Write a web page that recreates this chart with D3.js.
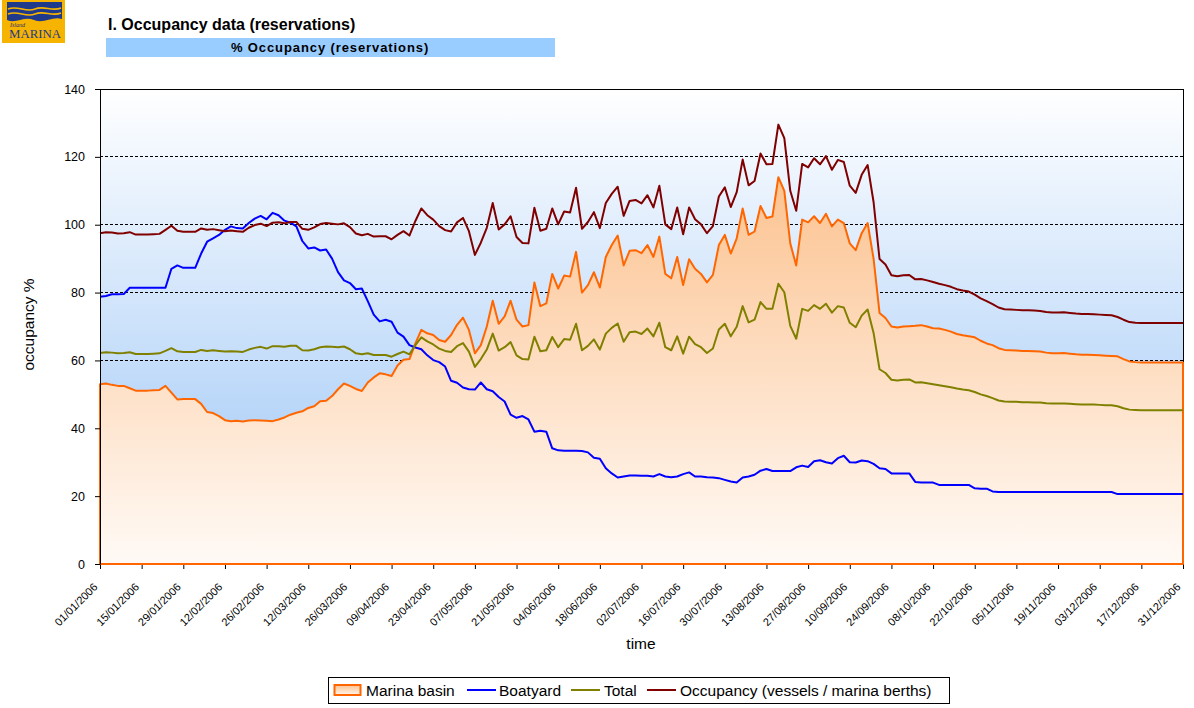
<!DOCTYPE html>
<html>
<head>
<meta charset="utf-8">
<script src="https://cdn.jsdelivr.net/npm/d3@7"></script>
<style>
  body { margin: 0; background: #fff; }
  svg { display: block; font-family: "Liberation Sans", Arial, sans-serif; }
</style>
</head>
<body>
<svg id="chart" width="1194" height="708"></svg>
<script>
// one reading every second day, starting 01/01/2006
const dayOffsets = d3.range(0, 365, 2);

const tickLabels = ['01/01/2006', '15/01/2006', '29/01/2006', '12/02/2006', '26/02/2006', '12/03/2006',
  '26/03/2006', '09/04/2006', '23/04/2006', '07/05/2006', '21/05/2006', '04/06/2006', '18/06/2006',
  '02/07/2006', '16/07/2006', '30/07/2006', '13/08/2006', '27/08/2006', '10/09/2006', '24/09/2006',
  '08/10/2006', '22/10/2006', '05/11/2006', '19/11/2006', '03/12/2006', '17/12/2006', '31/12/2006'];

const yTicks = [0, 20, 40, 60, 80, 100, 120, 140];
const gridValues = [20, 40, 60, 80, 100, 120];

const marinaBasin = [
  53.0, 53.2, 52.8, 52.5, 52.5, 51.8, 51.1, 51.1, 51.1, 51.2,
  51.3, 52.5, 50.5, 48.5, 48.6, 48.6, 48.6, 47.2, 44.8, 44.5,
  43.6, 42.4, 42.1, 42.2, 42.0, 42.3, 42.4, 42.3, 42.2, 42.1,
  42.6, 43.2, 44.0, 44.6, 45.0, 46.0, 46.5, 48.0, 48.1, 49.5,
  51.5, 53.2, 52.5, 51.6, 51.0, 53.5, 55.0, 56.2, 55.9, 55.4,
  58.5, 60.2, 60.4, 65.0, 69.0, 68.0, 67.5, 66.0, 65.5, 67.5,
  70.5, 72.6, 69.0, 62.1, 64.5, 70.0, 77.6, 70.8, 73.0, 77.6,
  72.0, 70.0, 70.4, 83.0, 76.0, 76.8, 85.5, 81.2, 85.0, 84.7,
  92.0, 80.0, 82.2, 86.0, 81.5, 90.5, 94.0, 96.8, 88.0, 92.3,
  92.5, 91.6, 94.0, 90.5, 96.5, 85.5, 84.2, 90.5, 82.2, 89.8,
  87.0, 85.5, 83.0, 85.2, 94.0, 97.0, 91.5, 96.0, 104.8, 97.0,
  98.0, 105.5, 102.0, 102.4, 114.0, 110.0, 94.5, 88.0, 101.5, 100.7,
  102.5, 100.5, 103.2, 99.5, 101.5, 100.5, 94.5, 92.5, 97.5, 100.5,
  90.0, 74.0, 72.5, 70.0, 69.7, 70.0, 70.1, 70.2, 70.4, 70.0,
  69.5, 69.4, 69.0, 68.5, 67.8, 67.4, 67.1, 66.8, 65.8, 65.0,
  64.5, 63.6, 63.1, 63.0, 62.9, 62.8, 62.8, 62.7, 62.6, 62.3,
  62.1, 62.1, 62.2, 62.0, 61.8, 61.7, 61.7, 61.6, 61.5, 61.4,
  61.3, 61.2, 60.4, 59.7, 59.5, 59.4, 59.4, 59.4, 59.4, 59.4,
  59.4, 59.4, 59.4];

const boatyard = [
  78.8, 79.0, 79.5, 79.5, 79.6, 81.4, 81.4, 81.4, 81.4, 81.4,
  81.4, 81.4, 87.0, 88.0, 87.3, 87.3, 87.3, 91.5, 95.0, 96.0,
  97.0, 98.5, 99.5, 99.0, 98.9, 100.5, 101.8, 102.6, 101.6, 103.5,
  102.8, 101.2, 100.6, 99.5, 95.2, 93.0, 93.3, 92.4, 92.7, 90.0,
  86.0, 83.6, 82.8, 81.0, 81.2, 77.5, 73.5, 71.5, 72.0, 71.4,
  68.2, 67.0, 64.5, 63.8, 63.3, 61.5, 60.1, 59.5, 58.2, 54.0,
  53.4, 52.0, 51.5, 51.4, 53.5, 51.5, 50.9, 49.2, 47.9, 44.0,
  43.1, 43.6, 42.6, 39.0, 39.3, 39.0, 34.1, 33.5, 33.4, 33.4,
  33.4, 33.3, 32.9, 31.3, 31.0, 28.2, 26.7, 25.5, 25.8, 26.1,
  26.1, 26.0, 26.0, 25.8, 26.5, 25.8, 25.6, 25.8, 26.5, 27.0,
  25.8, 25.8, 25.6, 25.5, 25.3, 24.8, 24.3, 24.0, 25.5, 25.8,
  26.3, 27.5, 28.0, 27.4, 27.4, 27.4, 27.4, 28.5, 29.0, 28.6,
  30.3, 30.6, 30.0, 29.6, 31.2, 31.9, 30.0, 29.9, 30.5, 30.3,
  29.5, 28.2, 28.0, 26.7, 26.7, 26.7, 26.7, 24.2, 24.0, 24.0,
  24.0, 23.3, 23.3, 23.3, 23.3, 23.3, 23.3, 22.3, 22.2, 22.2,
  21.4, 21.2, 21.2, 21.2, 21.2, 21.2, 21.2, 21.2, 21.2, 21.2,
  21.2, 21.2, 21.2, 21.2, 21.2, 21.2, 21.2, 21.2, 21.2, 21.2,
  21.2, 20.6, 20.6, 20.6, 20.6, 20.6, 20.6, 20.6, 20.6, 20.6,
  20.6, 20.6, 20.6];

const total = [
  62.2, 62.4, 62.3, 62.1, 62.2, 62.4, 61.9, 61.9, 61.9, 62.0,
  62.1, 62.8, 63.6, 62.7, 62.5, 62.5, 62.5, 63.1, 62.8, 63.0,
  62.8, 62.6, 62.7, 62.6, 62.5, 63.2, 63.7, 64.0, 63.5, 64.2,
  64.2, 64.0, 64.3, 64.3, 63.0, 62.9, 63.3, 63.9, 64.1, 64.0,
  63.9, 64.1, 63.3, 62.1, 61.8, 62.1, 61.6, 61.6, 61.6, 61.1,
  61.9, 62.6, 61.8, 64.5, 66.8, 65.6, 64.7, 63.5, 62.8, 62.5,
  64.2, 65.1, 62.6, 58.1, 60.4, 63.2, 67.9, 62.9, 63.9, 65.4,
  61.5, 60.4, 60.3, 67.0, 62.7, 63.0, 66.9, 63.9, 66.3, 66.1,
  70.8, 63.0, 64.3, 66.2, 63.2, 67.9, 69.6, 70.9, 65.5, 68.3,
  68.5, 67.8, 69.4, 67.1, 71.1, 63.9, 63.0, 67.1, 62.0, 67.0,
  64.8, 63.9, 62.2, 63.5, 69.1, 70.8, 67.1, 69.9, 76.0, 71.2,
  72.0, 77.2, 75.2, 75.2, 82.6, 80.1, 70.2, 66.4, 75.2, 74.6,
  76.3, 75.2, 76.7, 74.1, 76.0, 75.6, 71.1, 69.8, 73.2, 75.0,
  68.1, 57.4, 56.3, 54.3, 54.1, 54.3, 54.4, 53.5, 53.6, 53.3,
  53.0, 52.7, 52.4, 52.1, 51.7, 51.4, 51.2, 50.7, 50.0, 49.5,
  48.9, 48.2, 47.9, 47.8, 47.8, 47.7, 47.7, 47.6, 47.6, 47.4,
  47.3, 47.3, 47.3, 47.2, 47.1, 47.0, 47.0, 47.0, 46.9, 46.8,
  46.8, 46.5, 45.9, 45.5, 45.4, 45.3, 45.3, 45.3, 45.3, 45.3,
  45.3, 45.3, 45.3];

const occupancy = [
  97.5, 97.8, 97.7, 97.4, 97.5, 97.8, 97.1, 97.1, 97.1, 97.2,
  97.3, 98.5, 99.7, 98.2, 97.9, 97.9, 97.9, 98.9, 98.5, 98.7,
  98.4, 98.1, 98.3, 98.1, 97.9, 99.1, 99.9, 100.3, 99.6, 100.6,
  100.7, 100.4, 100.8, 100.8, 98.8, 98.5, 99.2, 100.2, 100.5, 100.3,
  100.1, 100.4, 99.3, 97.4, 96.9, 97.3, 96.5, 96.6, 96.6, 95.7,
  97.0, 98.1, 96.8, 101.1, 104.8, 102.8, 101.5, 99.6, 98.4, 98.0,
  100.7, 102.0, 98.1, 91.1, 94.7, 99.1, 106.4, 98.6, 100.1, 102.5,
  96.4, 94.6, 94.5, 105.0, 98.2, 98.8, 104.8, 100.1, 103.9, 103.6,
  110.9, 98.8, 100.8, 103.7, 99.0, 106.4, 109.1, 111.2, 102.6, 107.0,
  107.3, 106.3, 108.7, 105.1, 111.5, 100.1, 98.7, 105.1, 97.2, 105.1,
  101.6, 100.1, 97.5, 99.6, 108.3, 111.0, 105.2, 109.6, 119.2, 111.6,
  112.9, 121.0, 117.8, 117.9, 129.5, 125.5, 110.0, 104.1, 117.9, 116.9,
  119.6, 117.8, 120.2, 116.2, 119.1, 118.5, 111.5, 109.4, 114.7, 117.6,
  106.7, 89.9, 88.3, 85.1, 84.8, 85.1, 85.2, 83.9, 84.0, 83.6,
  83.1, 82.6, 82.2, 81.7, 81.0, 80.6, 80.3, 79.4, 78.3, 77.5,
  76.6, 75.6, 75.1, 75.0, 74.9, 74.8, 74.8, 74.7, 74.6, 74.3,
  74.1, 74.1, 74.2, 74.0, 73.8, 73.7, 73.7, 73.6, 73.5, 73.4,
  73.3, 72.8, 72.0, 71.3, 71.1, 71.0, 71.0, 71.0, 71.0, 71.0,
  71.0, 71.0, 71.0];

const svg = d3.select('#chart');
const parseDay = d3.utcParse('%d/%m/%Y');
const firstDay = parseDay(tickLabels[0]);
const dates = dayOffsets.map(d => d3.utcDay.offset(firstDay, d));
const tickDates = tickLabels.map(parseDay);

const x = d3.scaleUtc().domain([firstDay, tickDates[tickDates.length - 1]]).range([100, 1183]);
const y = d3.scaleLinear().domain([0, 140]).range([564, 89]);
const [x0, x1] = x.range();
const [yBottom, yTop] = y.range();

// gradients
const defs = svg.append('defs');
const bgGrad = defs.append('linearGradient').attr('id', 'bgGrad')
  .attr('x1', 0).attr('y1', 0).attr('x2', 0).attr('y2', 1);
bgGrad.append('stop').attr('offset', '0%').attr('stop-color', '#ffffff');
bgGrad.append('stop').attr('offset', '100%').attr('stop-color', '#99c4f6');

const areaGrad = defs.append('linearGradient').attr('id', 'areaGrad')
  .attr('gradientUnits', 'userSpaceOnUse')
  .attr('x1', 0).attr('x2', 0).attr('y1', y(d3.max(marinaBasin))).attr('y2', yBottom);
areaGrad.append('stop').attr('offset', '0%').attr('stop-color', '#fcc391');
areaGrad.append('stop').attr('offset', '100%').attr('stop-color', '#fffaf6');

const swatchGrad = defs.append('linearGradient').attr('id', 'swatchGrad')
  .attr('x1', 0).attr('y1', 0).attr('x2', 0).attr('y2', 1);
swatchGrad.append('stop').attr('offset', '0%').attr('stop-color', '#fcc391');
swatchGrad.append('stop').attr('offset', '100%').attr('stop-color', '#fff4ea');

// logo
const logo = svg.append('g');
logo.append('rect').attr('x', 2).attr('y', 0).attr('width', 63).attr('height', 43).attr('fill', '#f6b400');
logo.append('path')
  .attr('d', 'M7,2 L62,2 L62,19 C52,16 44,24 34,20 C24,16 16,24 7,20 Z')
  .attr('fill', '#1f3a8a');
logo.append('path')
  .attr('d', 'M8,9 C18,5 26,13 35,9 C44,5 52,12 61,8')
  .attr('fill', 'none').attr('stroke', '#f6b400').attr('stroke-width', 1.6);
logo.append('path')
  .attr('d', 'M8,14 C18,10 26,18 35,14 C44,10 52,17 61,13')
  .attr('fill', 'none').attr('stroke', '#f6b400').attr('stroke-width', 1.6);
logo.append('text').attr('x', 10).attr('y', 27).text('Island')
  .style('font-family', '"Liberation Serif", serif').style('font-style', 'italic')
  .style('font-size', '6px').attr('fill', '#2b2f6b');
logo.append('text').attr('x', 9).attr('y', 37.5).text('MARINA')
  .attr('textLength', 52).attr('lengthAdjust', 'spacingAndGlyphs')
  .style('font-family', '"Liberation Serif", serif').style('font-size', '12px').attr('fill', '#1f3a8a');

// titles
svg.append('text').attr('x', 108).attr('y', 30).text('I. Occupancy data (reservations)')
  .style('font-size', '16px').style('font-weight', 'bold').attr('fill', '#000');
svg.append('rect').attr('x', 106).attr('y', 38).attr('width', 449).attr('height', 19).attr('fill', '#99ccff');
svg.append('text').attr('x', 330).attr('y', 51.5).attr('text-anchor', 'middle')
  .text('% Occupancy (reservations)')
  .style('font-size', '13px').style('font-weight', 'bold').style('letter-spacing', '0.9px');

// plot background
svg.append('rect').attr('x', x0).attr('y', yTop).attr('width', x1 - x0).attr('height', yBottom - yTop)
  .attr('fill', 'url(#bgGrad)');

// gridlines
svg.append('g').selectAll('line').data(gridValues).join('line')
  .attr('x1', x0).attr('x2', x1).attr('y1', d => y(d)).attr('y2', d => y(d))
  .attr('stroke', '#000').attr('stroke-width', 1).attr('stroke-dasharray', '3,2')
  .attr('shape-rendering', 'crispEdges');

// plot border (top, right)
svg.append('path').attr('d', `M${x0},${yTop}H${x1}V${yBottom}`)
  .attr('fill', 'none').attr('stroke', '#000').attr('stroke-width', 1).attr('shape-rendering', 'crispEdges');

// x axis
const xAxis = svg.append('g').attr('transform', `translate(0,${yBottom})`)
  .call(d3.axisBottom(x).tickValues(tickDates).tickSize(5).tickSizeOuter(0)
    .tickFormat((d, i) => tickLabels[i]));
xAxis.select('.domain').attr('stroke', '#000');
xAxis.selectAll('.tick line').attr('stroke', '#000');
xAxis.selectAll('.tick text')
  .attr('x', 0).attr('y', 0).attr('dy', '0.35em')
  .attr('transform', 'translate(-5,21) rotate(-45)')
  .attr('text-anchor', 'end')
  .style('font-size', '11px').style('font-family', '"Liberation Sans", Arial, sans-serif').attr('fill', '#000');

// marina basin area
const area = d3.area().x((d, i) => x(dates[i])).y0(yBottom).y1(d => y(d));
svg.append('path').datum(marinaBasin).attr('d', area)
  .attr('fill', 'url(#areaGrad)').attr('stroke', '#ff6600').attr('stroke-width', 2)
  .attr('stroke-linejoin', 'round');

// lines
const line = d3.line().x((d, i) => x(dates[i])).y(d => y(d));
const series = [
  { values: boatyard, color: '#0000ff' },
  { values: total, color: '#808000' },
  { values: occupancy, color: '#800000' },
];
svg.append('g').selectAll('path').data(series).join('path')
  .attr('d', d => line(d.values))
  .attr('fill', 'none').attr('stroke', d => d.color).attr('stroke-width', 2)
  .attr('stroke-linejoin', 'round');

// y axis
const yAxis = svg.append('g').attr('transform', `translate(${x0},0)`)
  .call(d3.axisLeft(y).tickValues(yTicks).tickSize(5).tickSizeOuter(0).tickPadding(10));
yAxis.select('.domain').attr('stroke', '#000');
yAxis.selectAll('.tick line').attr('stroke', '#000');
yAxis.selectAll('.tick text').style('font-size', '12.5px')
  .style('font-family', '"Liberation Sans", Arial, sans-serif').attr('fill', '#000');

// axis titles
svg.append('text').attr('transform', 'translate(34,324.5) rotate(-90)').attr('text-anchor', 'middle')
  .text('occupancy %').style('font-size', '15.5px');
svg.append('text').attr('x', 641).attr('y', 649).attr('text-anchor', 'middle')
  .text('time').style('font-size', '15.5px');

// legend
const legend = svg.append('g');
legend.append('rect').attr('x', 328.5).attr('y', 677.5).attr('width', 621).attr('height', 26)
  .attr('fill', '#fff').attr('stroke', '#000').attr('stroke-width', 1);
legend.append('rect').attr('x', 334.5).attr('y', 685).attr('width', 26).attr('height', 10)
  .attr('fill', 'url(#swatchGrad)').attr('stroke', '#ff6600').attr('stroke-width', 2);
const legendItems = [
  { label: 'Marina basin', textX: 366 },
  { label: 'Boatyard', color: '#0000ff', lx: 467, textX: 499 },
  { label: 'Total', color: '#808000', lx: 571, textX: 604 },
  { label: 'Occupancy (vessels / marina berths)', color: '#800000', lx: 647, textX: 680 },
];
legendItems.filter(d => d.color).forEach(d => {
  legend.append('line').attr('x1', d.lx).attr('x2', d.lx + 29).attr('y1', 690).attr('y2', 690)
    .attr('stroke', d.color).attr('stroke-width', 2);
});
legend.selectAll('text').data(legendItems).join('text')
  .attr('x', d => d.textX).attr('y', 695.5).text(d => d.label)
  .style('font-size', '15.5px').attr('fill', '#000');
</script>
</body>
</html>
